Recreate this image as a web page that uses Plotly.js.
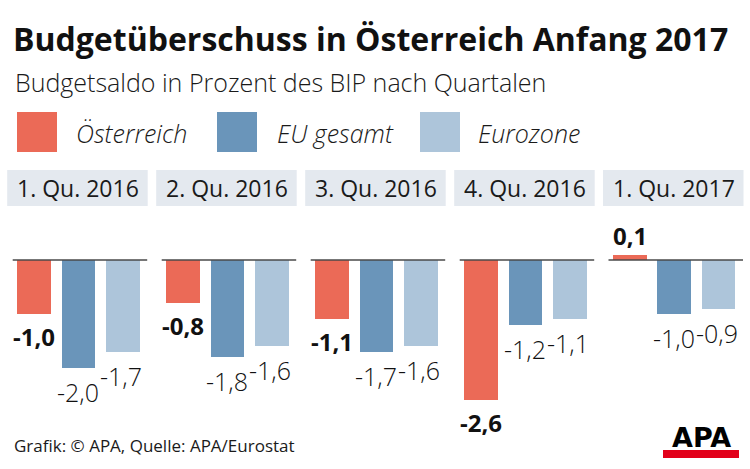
<!DOCTYPE html>
<html>
<head>
<meta charset="utf-8">
<script src="https://cdn.plot.ly/plotly-3.0.1.min.js"></script>
<style>html,body{margin:0;padding:0;background:#fff;}#chart{width:750px;height:469px;}</style>
</head>
<body>
<div id="chart"></div>
<script>
const quarters = ['1. Qu. 2016', '2. Qu. 2016', '3. Qu. 2016', '4. Qu. 2016', '1. Qu. 2017'];
const series = ['Österreich', 'EU gesamt', 'Eurozone'];
const oesterreich = [-1.0, -0.8, -1.1, -2.6, 0.1];
const euGesamt = [-2.0, -1.8, -1.7, -1.2, -1.0];
const eurozone = [-1.7, -1.6, -1.6, -1.1, -0.9];
const seriesColors = ['#EB6A57', '#6A95BA', '#ADC5DA'];

const W = 750, H = 469;
const X = px => px / W;
const Y = py => 1 - py / H;
const FONT = '"Open Sans", "DejaVu Sans", sans-serif';
const values = [oesterreich, euGesamt, eurozone];
const fmt = v => v.toFixed(1).replace('.', ',');

const zeroPx = 260, pxPerUnit = 54, yTop = 225, yBot = 425;
const panelStart = [12.7, 161.7, 310.7, 459.7, 608.5];
const panelW = 134.5;

const data = [];
const layout = {
  width: W, height: H,
  margin: {l: 0, r: 0, t: 0, b: 0},
  paper_bgcolor: '#fff', plot_bgcolor: 'rgba(0,0,0,0)',
  showlegend: false,
  bargap: 0,
  yaxis: {
    domain: [Y(yBot), Y(yTop)],
    range: [-(yBot - zeroPx) / pxPerUnit, (zeroPx - yTop) / pxPerUnit],
    visible: false, zeroline: false, fixedrange: true, anchor: 'x'
  },
  shapes: [],
  annotations: []
};

quarters.forEach((q, i) => {
  const ax = i === 0 ? 'x' : 'x' + (i + 1);
  const axKey = i === 0 ? 'xaxis' : 'xaxis' + (i + 1);
  layout[axKey] = {
    domain: [X(panelStart[i]), X(panelStart[i] + panelW)],
    range: [-0.48, 2.55],
    type: 'category',
    visible: false, fixedrange: true, anchor: 'y'
  };
  data.push({
    type: 'bar',
    x: series,
    y: values.map(s => s[i]),
    xaxis: ax, yaxis: 'y',
    width: 0.755,
    marker: {color: seriesColors, line: {width: 0}},
    hoverinfo: 'none'
  });
  // header box
  layout.shapes.push({
    type: 'rect', xref: ax + ' domain', yref: 'paper',
    x0: -5.5 / panelW, x1: 1 + 0.5 / panelW,
    y0: Y(206), y1: Y(170),
    fillcolor: '#E4E9EF', line: {width: 0}, layer: 'below'
  });
  layout.annotations.push({
    xref: ax + ' domain', yref: 'paper',
    x: 0.5 - 1.5 / panelW, y: Y(188), xanchor: 'center', yanchor: 'middle',
    text: q, showarrow: false,
    font: {family: FONT, size: 23, color: '#1a1a1a'}
  });
  // zero line
  layout.shapes.push({
    type: 'line', xref: ax + ' domain', yref: 'y',
    x0: 0, x1: 1, y0: 0, y1: 0,
    line: {color: '#4a4a4a', width: 1.5}, layer: 'above'
  });
  // value labels
  values.forEach((s, j) => {
    const v = s[i];
    const bold = j === 0;
    layout.annotations.push({
      xref: ax, yref: 'y', x: series[j], y: v,
      xanchor: 'center', yanchor: v >= 0 ? 'bottom' : 'top',
      yshift: v >= 0 ? 1 : (bold ? -4 : -5),
      xshift: j === 2 ? -2 : 0,
      text: bold ? '<b>' + fmt(v) + '</b>' : fmt(v),
      showarrow: false,
      font: {family: FONT, size: bold ? 24 : 25, color: '#111', weight: bold ? 700 : 300}
    });
  });
});

// title, subtitle
layout.annotations.push({
  xref: 'paper', yref: 'paper', x: X(11), y: Y(38), xanchor: 'left', yanchor: 'middle',
  text: '<b>Budgetüberschuss in Österreich Anfang 2017</b>', showarrow: false,
  font: {family: FONT, size: 32, color: '#111'}
});
layout.annotations.push({
  xref: 'paper', yref: 'paper', x: X(13), y: Y(82), xanchor: 'left', yanchor: 'middle',
  text: 'Budgetsaldo in Prozent des BIP nach Quartalen', showarrow: false,
  font: {family: FONT, size: 25, color: '#1a1a1a', weight: 300}
});
// legend
const legSq = [17, 217, 420];
const legTx = [74, 275, 476];
series.forEach((s, j) => {
  layout.shapes.push({
    type: 'rect', xref: 'paper', yref: 'paper',
    x0: X(legSq[j]), x1: X(legSq[j] + 40), y0: Y(152), y1: Y(112),
    fillcolor: seriesColors[j], line: {width: 0}
  });
  layout.annotations.push({
    xref: 'paper', yref: 'paper', x: X(legTx[j]), y: Y(133), xanchor: 'left', yanchor: 'middle',
    text: '<i>' + s + '</i>', showarrow: false,
    font: {family: FONT, size: 25, color: '#1a1a1a', weight: 300}
  });
});
// footer
layout.annotations.push({
  xref: 'paper', yref: 'paper', x: X(12), y: Y(445), xanchor: 'left', yanchor: 'middle',
  text: 'Grafik: © APA, Quelle: APA/Eurostat', showarrow: false,
  font: {family: FONT, size: 17, color: '#1a1a1a'}
});
// APA logo
layout.shapes.push({
  type: 'rect', xref: 'paper', yref: 'paper',
  x0: X(663), x1: X(739), y0: Y(458), y1: Y(450),
  fillcolor: '#E2001A', line: {width: 0}
});
layout.annotations.push({
  xref: 'paper', yref: 'paper', x: X(701), y: Y(450), xanchor: 'center', yanchor: 'bottom',
  yshift: -5,
  text: '<b>APA</b>', showarrow: false,
  font: {family: '"DejaVu Sans", sans-serif', size: 27, color: '#000'}
});

Plotly.newPlot('chart', data, layout, {staticPlot: true, displayModeBar: false});
</script>
</body>
</html>
